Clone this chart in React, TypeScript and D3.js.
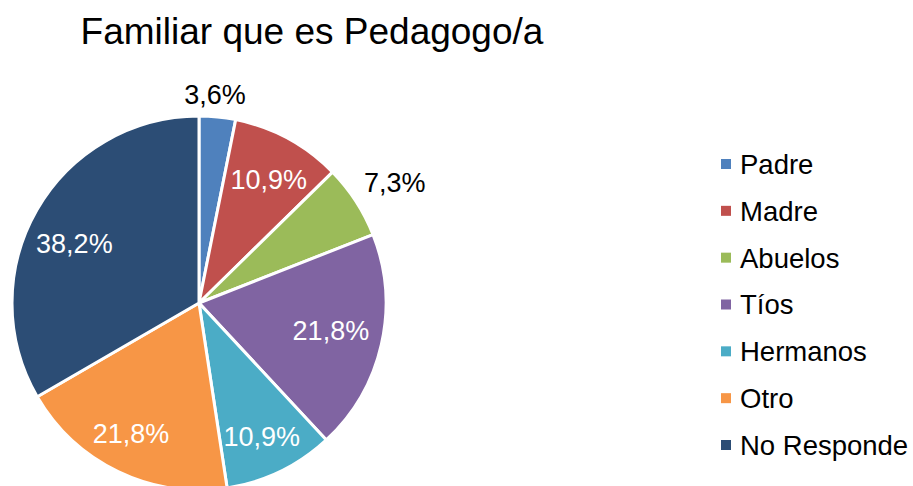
import React, { useRef, useEffect } from 'react';
import * as d3 from 'd3';

const categories = ['Padre', 'Madre', 'Abuelos', 'Tíos', 'Hermanos', 'Otro', 'No Responde'];
const percents = [3.6, 10.9, 7.3, 21.8, 10.9, 21.8, 38.2];
const colors = ['#4F81BD', '#C0504D', '#9BBB59', '#8064A2', '#4BACC6', '#F79646', '#2C4D75'];
const title = 'Familiar que es Pedagogo/a';

// label placement like excel's "best fit": radius ratio + angle nudge (degrees)
const labelPlace = [
  { k: 1.12, shift: -1.3, inside: false },
  { k: 0.76, shift: 0.9, inside: true },
  { k: 1.23, shift: 1.3, inside: false },
  { k: 0.72, shift: -1.2, inside: true },
  { k: 0.79, shift: 0.6, inside: true },
  { k: 0.785, shift: 2, inside: true },
  { k: 0.74, shift: -4.2, inside: true },
];

export default function App() {
  const ref = useRef<SVGSVGElement>(null);

  useEffect(() => {
    const width = 913;
    const height = 486;
    const cx = 199;
    const cy = 303;
    const radius = 187;
    const font = 'Arial, "Liberation Sans", sans-serif';

    const svg = d3.select(ref.current);
    svg.selectAll('*').remove();

    svg
      .append('text')
      .attr('x', 312)
      .attr('y', 44)
      .attr('text-anchor', 'middle')
      .attr('font-family', font)
      .attr('font-size', 37)
      .attr('fill', '#000')
      .text(title);

    const data = categories.map((c, i) => ({ name: c, value: percents[i], i }));
    const pie = d3
      .pie<any>()
      .sort(null)
      .value((d) => d.value);
    const arcs = pie(data);
    const arc = d3.arc<any>().innerRadius(0).outerRadius(radius);

    const g = svg.append('g').attr('transform', `translate(${cx},${cy})`);

    g.selectAll('path')
      .data(arcs)
      .enter()
      .append('path')
      .attr('d', arc)
      .attr('fill', (d) => colors[d.data.i])
      .attr('stroke', '#fff')
      .attr('stroke-width', 3)
      .attr('stroke-linejoin', 'round');

    const labelPos = (d: any) => {
      const p = labelPlace[d.data.i];
      const a = (d.startAngle + d.endAngle) / 2 + (p.shift * Math.PI) / 180;
      return [Math.sin(a) * radius * p.k, -Math.cos(a) * radius * p.k];
    };

    g.selectAll('text.lbl')
      .data(arcs)
      .enter()
      .append('text')
      .attr('class', 'lbl')
      .attr('x', (d) => labelPos(d)[0])
      .attr('y', (d) => labelPos(d)[1])
      .attr('dy', '0.36em')
      .attr('text-anchor', 'middle')
      .attr('font-family', font)
      .attr('font-size', 27)
      .attr('fill', (d) => (labelPlace[d.data.i].inside ? '#fff' : '#000'))
      .text((d) => d3.format('.1f')(d.data.value).replace('.', ',') + '%');

    const legendY = d3
      .scalePoint()
      .domain(categories)
      .range([164, 445]);

    const leg = svg
      .selectAll('g.leg')
      .data(categories)
      .enter()
      .append('g')
      .attr('class', 'leg')
      .attr('transform', (d) => `translate(721,${legendY(d)})`);

    leg
      .append('rect')
      .attr('x', 0)
      .attr('y', -5)
      .attr('width', 10)
      .attr('height', 10)
      .attr('fill', (d, i) => colors[i]);

    leg
      .append('text')
      .attr('x', 19)
      .attr('dy', '0.36em')
      .attr('font-family', font)
      .attr('font-size', 27.5)
      .attr('fill', '#000')
      .text((d) => d);

    svg.attr('width', width).attr('height', height);
  }, []);

  return (
    <svg
      ref={ref}
      width={913}
      height={486}
      style={{ position: 'absolute', left: 0, top: 0, background: '#fff' }}
    />
  );
}
